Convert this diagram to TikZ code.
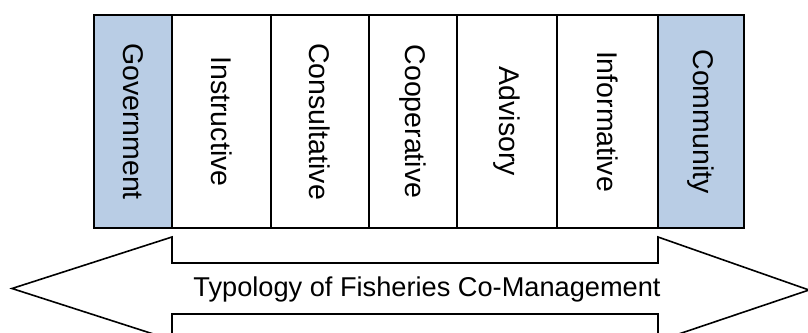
\documentclass[tikz,border=0pt]{standalone}
\usepackage{fontspec}
\setmainfont{Liberation Sans}
\definecolor{govblue}{HTML}{B9CDE5}
\begin{document}
\begin{tikzpicture}[x=1pt,y=-1pt,
  cell/.style={draw=black, line width=1.6pt, fill=white, inner sep=0pt, outer sep=0pt,
    minimum width=213pt, rotate=-90, font=\fontsize{28.5}{30}\selectfont},
  endcell/.style={cell, fill=govblue},
  bigarrow/.style={draw=black, line width=1.6pt, fill=white, line join=miter},
  arrowlabel/.style={font=\fontsize{27.2}{29}\selectfont, inner sep=0pt}]
\useasboundingbox (0,0) rectangle (808,332);
\begin{scope}
\clip (0,0) rectangle (808,332);
% double arrow
\coordinate (lt) at (12,288.5);
\coordinate (rt) at (809,290);
\draw[bigarrow] (lt) -- (172,237) -- (172,263) -- (658,263) -- (658,237) -- (rt)
  -- (658,341) -- (658,314) -- (172,314) -- (172,340) -- cycle;
\end{scope}
\node[arrowlabel] (lab) at (427,289) {Typology of Fisheries Co-Management};
% boxes
\node[endcell, minimum height=78pt]  (gov)  at (133,121.5) {Government};
\node[cell, minimum height=99pt]     (ins)  at (221.5,121.5) {Instructive};
\node[cell, minimum height=98pt]     (cons) at (320,121.5) {Consultative};
\node[cell, minimum height=88pt]     (coop) at (413,121.5) {Cooperative};
\node[cell, minimum height=100pt]    (adv)  at (507,121.5) {Advisory};
\node[cell, minimum height=101pt]    (inf)  at (607.5,121.5) {Informative};
\node[endcell, minimum height=86pt]  (com)  at (701,121.5) {Community};
\end{tikzpicture}
\end{document}
